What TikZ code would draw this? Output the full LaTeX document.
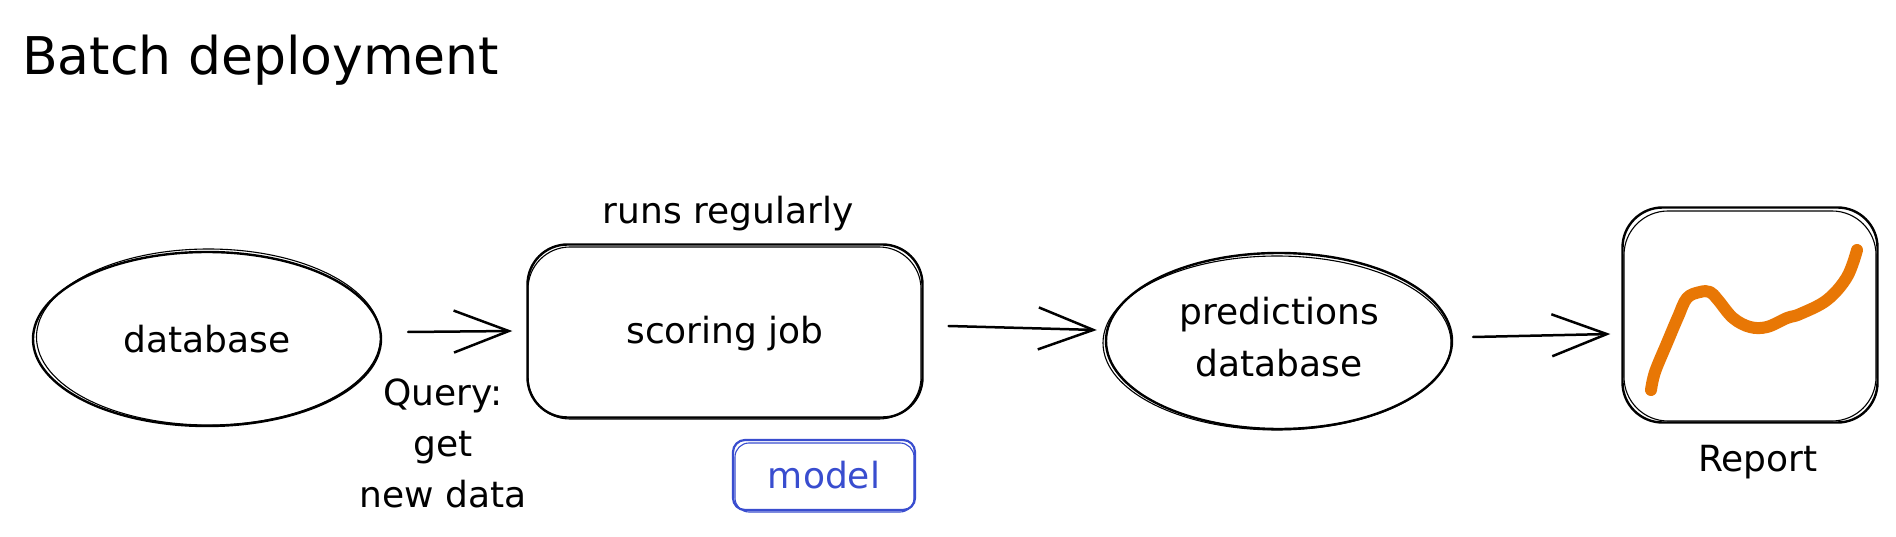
\documentclass[tikz,border=0pt]{standalone}
\usepackage{fontspec}
\setmainfont{DejaVu Sans}
\usetikzlibrary{shapes.geometric,arrows.meta}
\definecolor{inkblue}{RGB}{57,77,207}
\definecolor{inkorange}{RGB}{232,119,5}
\tikzset{
  ink/.style={draw=black,line width=2.4pt},
  txt/.style={font=\fontsize{36}{50}\selectfont, align=center, inner sep=0pt},
  ellnode/.style={ink, ellipse, inner sep=0pt, txt},
  boxnode/.style={ink, rectangle, rounded corners=40pt, inner sep=0pt, txt},
  sketch/.style={draw=black, line width=1.1pt},
  arr/.style={line width=2.5pt, line cap=round, -{Straight Barb[length=55pt,width=42pt,line width=2.5pt]}},
}
\begin{document}
\begin{tikzpicture}[x=1pt,y=-1pt]
\fill[white] (0,0) rectangle (1896,537);
\useasboundingbox (0,0) rectangle (1896,537);
% title
\node[font=\fontsize{52}{60}\selectfont, anchor=base west, inner sep=0pt] (title) at (22,75) {Batch deployment};
% database
\node[ellnode, minimum width=348pt, minimum height=174pt] (db) at (207,339) {database};
\draw[sketch] (208.5,337) ellipse [x radius=172pt, y radius=88pt];
% scoring job
\node[boxnode, minimum width=395pt, minimum height=173pt, text height=45pt, text depth=20pt] (job) at (725,331) {scoring job};
\draw[sketch, rounded corners=42pt] (528,247) rectangle (921,419);
\node[txt, anchor=base] (runs) at (728,224) {runs regularly};
% model
\node[draw=inkblue, line width=2.2pt, rounded corners=12pt, minimum width=182pt, minimum height=70pt, txt, text=inkblue] (model) at (824,475) {model};
\draw[inkblue, line width=1.1pt, rounded corners=14pt] (735,443) rectangle (914,512);
% query label
\node[txt, font=\fontsize{36}{51}\selectfont, anchor=north] (query) at (443,379) {Query:\\get\\new data};
% predictions database
\node[ellnode, minimum width=346pt, minimum height=176pt] (pred) at (1279,341) {\raisebox{-2pt}{\begin{tabular}{@{}c@{}}predictions\\[2pt]database\end{tabular}}};
\draw[sketch] (1277,343) ellipse [x radius=174pt, y radius=87pt];
% report
\node[boxnode, minimum width=255pt, minimum height=215pt] (report) at (1750,315) {};
\draw[sketch, rounded corners=44pt] (1624,211) rectangle (1876,421);
\node[txt, anchor=base] (replabel) at (1758,471) {Report};
\draw[inkorange, line width=12pt, line cap=round, line join=round] plot[smooth, tension=0.6] coordinates {(1651,390) (1655,372) (1667,343) (1678,317) (1687,298) (1700,292) (1710,292) (1718,300) (1733,318) (1750,327) (1767,327) (1787,318) (1800,314) (1827,300) (1847,277) (1857,250)};
% connectors
\draw[arr] ([xshift=26pt,yshift=7pt]db.east) -- ([xshift=-14pt]job.west);
\draw[arr] ([xshift=25pt,yshift=5pt]job.east) -- ([xshift=-8pt,yshift=11pt]pred.west);
\draw[arr] ([xshift=20pt,yshift=4pt]pred.east) -- ([xshift=-11pt,yshift=-19pt]report.west);
\end{tikzpicture}
\end{document}
